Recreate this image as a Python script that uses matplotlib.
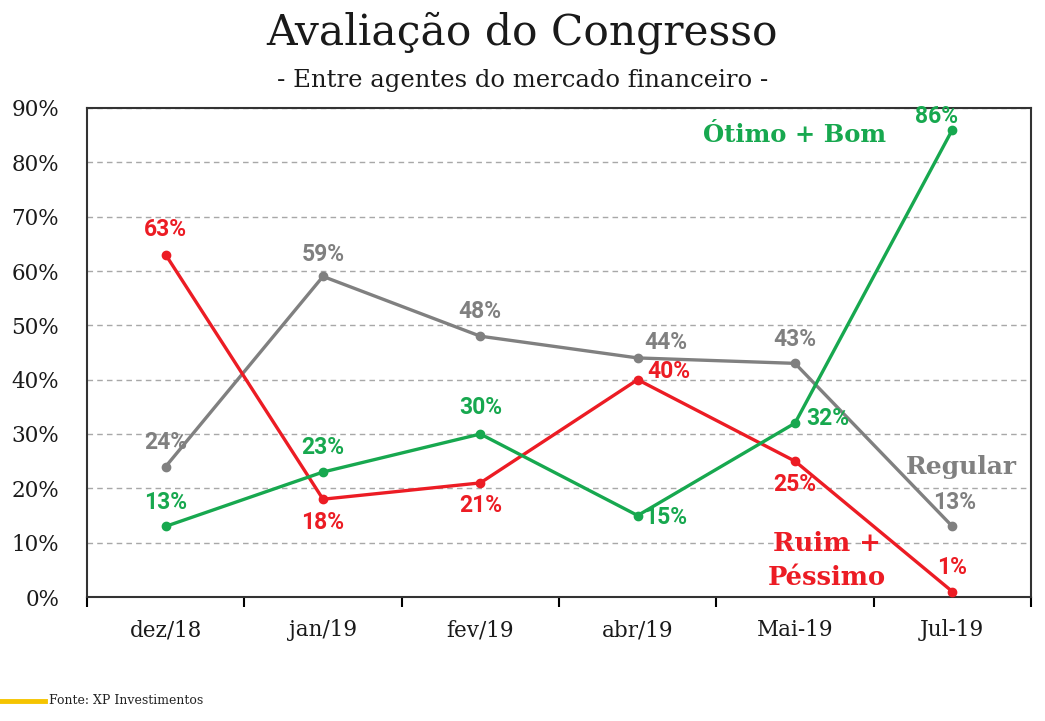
import matplotlib.pyplot as plt
from matplotlib.ticker import FixedLocator, FuncFormatter

# dados
meses = ["dez/18", "jan/19", "fev/19", "abr/19", "Mai-19", "Jul-19"]
otimo_bom = [13, 23, 30, 15, 32, 86]
regular = [24, 59, 48, 44, 43, 13]
ruim_pessimo = [63, 18, 21, 40, 25, 1]

verde = "#17a84f"
cinza = "#808080"
vermelho = "#ec1c24"

plt.rcParams["font.family"] = ["DejaVu Serif"]

fig = plt.figure(figsize=(10.45, 7.21), dpi=100)
ax = fig.add_axes([87 / 1045, 1 - 597 / 721, (1031 - 87) / 1045, (597 - 108) / 721])

x = list(range(len(meses)))
ax.plot(x, regular, color=cinza, lw=2.4, marker="o", ms=6, zorder=3)
ax.plot(x, ruim_pessimo, color=vermelho, lw=2.4, marker="o", ms=6, zorder=4)
ax.plot(x, otimo_bom, color=verde, lw=2.4, marker="o", ms=6, zorder=5)

ax.set_xlim(-0.5, len(meses) - 0.5)
ax.set_ylim(0, 90)

ax.yaxis.set_major_locator(FixedLocator(range(0, 91, 10)))
ax.yaxis.set_major_formatter(FuncFormatter(lambda v, p: f"{int(v)}%"))
ax.tick_params(axis="y", length=0, labelsize=15.5, pad=20, labelcolor="#1a1a1a")
ax.grid(axis="y", color="#a8a8a8", ls=(0, (4, 3)), lw=1)
ax.set_axisbelow(True)

ax.set_xticks(x)
ax.set_xticklabels(meses, fontsize=15.5, color="#1a1a1a")
ax.set_xticks([i + 0.5 for i in range(-1, len(meses))], minor=True)
ax.tick_params(axis="x", which="major", length=0, pad=16)
ax.tick_params(axis="x", which="minor", length=7, width=1.5, direction="out")

for s in ax.spines.values():
    s.set_color("#333333")
    s.set_linewidth(1.5)

# rótulos dos pontos (deslocamento em pixels)
off_cinza = [(0, 24), (0, 22), (0, 25), (28, 15), (0, 24), (2, 24)]
off_verde = [(0, 24), (0, 25), (0, 26), (28, -2), (33, 5), (-16, 13)]
off_verm = [(0, 25), (0, -23), (0, -23), (31, 8), (0, -23), (0, 24)]

for serie, offs, cor in [(regular, off_cinza, cinza), (otimo_bom, off_verde, verde),
                         (ruim_pessimo, off_verm, vermelho)]:
    for i, v in enumerate(serie):
        ax.annotate(f"{v}%", (i, v), xytext=offs[i], textcoords="offset pixels",
                    ha="center", va="center", color=cor, fontsize=16.5,
                    fontweight="bold", family=["Roboto", "DejaVu Sans"])

ax.text(4.0, 85.0, "Ótimo + Bom", color=verde, fontsize=17.5, fontweight="bold",
        ha="center", va="center")
ax.text(5.06, 24.0, "Regular", color=cinza, fontsize=18, fontweight="bold",
        ha="center", va="center")
ax.text(4.2, 6.7, "Ruim +\nPéssimo", color=vermelho, fontsize=18.5, fontweight="bold",
        ha="center", va="center", linespacing=1.45)

fig.text(0.5, 1 - 33 / 721, "Avaliação do Congresso", ha="center", va="center",
         fontsize=30.5, color="#1a1a1a")
fig.text(0.5, 1 - 80 / 721, "- Entre agentes do mercado financeiro -", ha="center",
         va="center", fontsize=17.5, color="#1a1a1a")

fig.add_artist(plt.Line2D([0, 45 / 1045], [1 - 701 / 721] * 2, color="#f5c400", lw=3.5))
fig.text(49 / 1045, 1 - 701 / 721, "Fonte: XP Investimentos", ha="left", va="center",
         fontsize=9, color="#222222")

fig.savefig("out.png", dpi=100, facecolor="white")
